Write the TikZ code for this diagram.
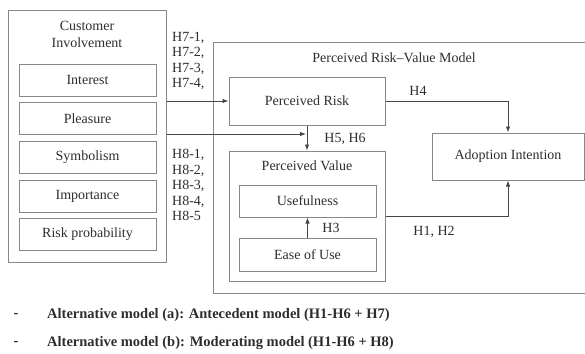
\documentclass[tikz,border=0pt]{standalone}
\usepackage{fontspec}
\setmainfont{Liberation Serif}
\usetikzlibrary{arrows.meta}
\definecolor{boxgray}{RGB}{135,135,135}
\definecolor{txtgray}{RGB}{45,45,45}
\definecolor{arrgray}{RGB}{70,70,70}

\begin{document}
\begin{tikzpicture}[x=1pt,y=-1pt,
    box/.style={draw=boxgray,line width=1pt,inner sep=0pt,text=txtgray,
      font=\fontsize{14}{16}\selectfont},
    lbl/.style={inner sep=0pt,text=txtgray,font=\fontsize{14}{15.5}\selectfont},
    arr/.style={draw=arrgray,line width=0.9pt,-{Latex[length=6pt,width=4.5pt]}}]
    \useasboundingbox (0,0) rectangle (585,353);
    % Customer involvement block
    \node[box,minimum width=158,minimum height=251] (ci) at (87,136.5) {};
    \node[lbl,align=center,font=\fontsize{14}{17}\selectfont] (cititle) at (87,34.5) {Customer\\Involvement};
    \node[box,minimum width=137,minimum height=32] (interest) at (87.5,80) {Interest};
    \node[box,minimum width=137,minimum height=32] (pleasure) at (87.5,118.5) {Pleasure};
    \node[box,minimum width=137,minimum height=32] (symbol) at (87.5,157.5) {Symbolism};
    \node[box,minimum width=137,minimum height=32] (import) at (87.5,196.5) {Importance};
    \node[box,minimum width=137,minimum height=32] (riskprob) at (87.5,234.5) {Risk probability};
    % risk-value model
    \node[box,minimum width=387,minimum height=250] (model) at (406.5,168) {};
    \node[lbl] (modeltitle) at (394,58) {Perceived Risk--Value Model};
    \node[box,minimum width=156,minimum height=48] (risk) at (307,101) {Perceived Risk};
    \node[box,minimum width=156,minimum height=130] (value) at (307,216) {};
    \node[lbl] (valuetitle) at (307,166) {Perceived Value};
    \node[box,minimum width=137,minimum height=32] (useful) at (307.5,201) {Usefulness};
    \node[box,minimum width=137,minimum height=33] (ease) at (307.5,254.5) {Ease of Use};
    \node[box,minimum width=152,minimum height=47] (adopt) at (508,156.5) {Adoption Intention};
    % paths
    \coordinate (hit) at (306,134);
    \draw[arr] (ci.east |- risk.west) -- (risk.west);
    \draw[arr] (ci.east |- hit) -- (hit);
    \draw[arr] (risk.south) -- (value.north);
    \draw[arr] (ease.north) -- (useful.south);
    \draw[arr] (risk.east) -| (adopt.north);
    \draw[arr] (value.east) -| (adopt.south);
    % hypothesis labels
    \node[lbl,anchor=north west,align=left] (h7) at (172,32) {H7-1,\\H7-2,\\H7-3,\\H7-4,};
    \node[lbl,anchor=north west,align=left] (h8) at (172,149) {H8-1,\\H8-2,\\H8-3,\\H8-4,\\H8-5};
    \node[lbl] (h4) at (418,91) {H4};
    \node[lbl] (h56) at (345,139) {H5, H6};
    \node[lbl] (h3) at (331,228) {H3};
    \node[lbl] (h12) at (434,232) {H1, H2};
    % alternative models
    \node[lbl,font=\fontsize{14.5}{16}\selectfont\bfseries] (dasha) at (16,315) {-};
    \node[lbl,anchor=west,font=\fontsize{14.5}{16}\selectfont\bfseries] (alta) at (47,315)
      {Alternative model (a): Antecedent model (H1-H6 + H7)};
    \node[lbl,font=\fontsize{14.5}{16}\selectfont\bfseries] (dashb) at (16,343) {-};
    \node[lbl,anchor=west,font=\fontsize{14.5}{16}\selectfont\bfseries] (altb) at (47,343)
      {Alternative model (b): Moderating model (H1-H6 + H8)};
\end{tikzpicture}
\end{document}
